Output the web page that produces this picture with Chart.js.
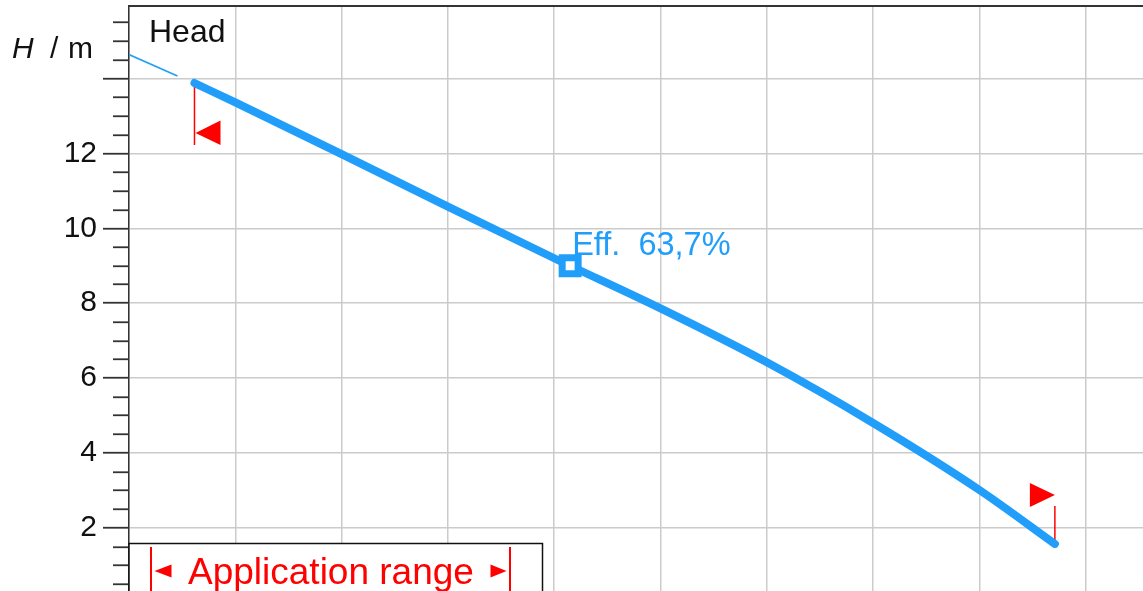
<!DOCTYPE html>
<html><head><meta charset="utf-8">
<style>html,body{margin:0;padding:0;background:#fff;overflow:hidden;width:1143px;height:591px}#wrap{width:1143px;height:591px;position:relative;overflow:hidden}</style>
<script src="https://cdn.jsdelivr.net/npm/chart.js@4/dist/chart.umd.min.js"></script>
</head><body><div id="wrap"><canvas id="c" width="1170" height="591"></canvas></div>
<script>
// ---- data ----
const flowQ = [0.616, 1, 2, 3, 4, 5, 6, 7, 8, 8.71];
const headH = [13.88, 13.36, 11.98, 10.58, 9.20, 7.86, 6.42, 4.80, 3.01, 1.57];
const extQ = [0, 0.456];
const extH = [14.64, 14.07];
const bepQ = [4.15];
const bepH = [9.0];
const effLabel = 'Eff.  63,7%';
const yTickLabels = [2, 4, 6, 8, 10, 12];
const curveTitle = 'Head';
const rangeLabel = 'Application range';

const BLUE = 'rgb(33,158,250)';
const RED = '#ff0000';
const GRID = '#cbcbcb';
const AXIS = '#333333';
const FONT = '"Liberation Sans", Arial, sans-serif';

const isMajor = v => Math.abs(v / 2 - Math.round(v / 2)) < 1e-6;
const isInt = v => Math.abs(v - Math.round(v)) < 1e-6;
const noPad = s => { s.paddingTop = 0; s.paddingBottom = 0; s.paddingLeft = 0; s.paddingRight = 0; };

const decor = {
  id: 'decor',
  beforeDatasetsDraw(chart) {
    const { ctx, scales: { x, y } } = chart;
    const n = flowQ.length - 1;
    const p0 = { x: x.getPixelForValue(flowQ[0]), y: y.getPixelForValue(headH[0]) };
    const pN = { x: x.getPixelForValue(flowQ[n]), y: y.getPixelForValue(headH[n]) };
    ctx.save();
    ctx.strokeStyle = RED; ctx.fillStyle = RED; ctx.lineWidth = 1.5;
    // left flag
    ctx.beginPath(); ctx.moveTo(p0.x, p0.y); ctx.lineTo(p0.x, p0.y + 62); ctx.stroke();
    ctx.beginPath(); ctx.moveTo(p0.x + 1, p0.y + 50); ctx.lineTo(p0.x + 26, p0.y + 37.5); ctx.lineTo(p0.x + 26, p0.y + 62); ctx.closePath(); ctx.fill();
    // right flag
    ctx.beginPath(); ctx.moveTo(pN.x, pN.y); ctx.lineTo(pN.x, pN.y - 38); ctx.stroke();
    ctx.beginPath(); ctx.moveTo(pN.x, pN.y - 49); ctx.lineTo(pN.x - 25, pN.y - 61); ctx.lineTo(pN.x - 25, pN.y - 37); ctx.closePath(); ctx.fill();
    ctx.restore();
  },
  afterDraw(chart) {
    const { ctx, chartArea: ca, scales: { x, y } } = chart;
    ctx.save();
    // minor ticks
    ctx.strokeStyle = AXIS; ctx.lineWidth = 1.8;
    y.ticks.forEach(t => {
      if (!isMajor(t.value)) {
        const py = Math.round(y.getPixelForValue(t.value)) + 0.25;
        ctx.beginPath(); ctx.moveTo(ca.left - 16, py); ctx.lineTo(ca.left, py); ctx.stroke();
      }
    });
    // axis title H / m
    ctx.fillStyle = '#111'; ctx.textBaseline = 'alphabetic'; ctx.textAlign = 'left';
    ctx.font = 'italic 30px ' + FONT; ctx.fillText('H', 12, 58);
    ctx.font = '30px ' + FONT; ctx.fillText('/', 50, 58); ctx.fillText('m', 68, 58);
    // curve title
    ctx.font = '32px ' + FONT; ctx.fillText(curveTitle, ca.left + 20, ca.top + 36);
    // efficiency label
    const bx = x.getPixelForValue(bepQ[0]), by = y.getPixelForValue(bepH[0]);
    ctx.fillStyle = BLUE; ctx.font = '32.5px ' + FONT; ctx.fillText(effLabel, bx + 2, by - 11);
    // application range box
    const bL = ca.left, bT = 543.5, bR = 542.5, bB = ca.bottom + 10;
    ctx.fillStyle = '#fff'; ctx.fillRect(bL, bT, bR - bL, bB - bT);
    ctx.strokeStyle = '#111'; ctx.lineWidth = 1.5; ctx.strokeRect(bL, bT, bR - bL, bB - bT);
    ctx.strokeStyle = RED; ctx.fillStyle = RED; ctx.lineWidth = 2;
    ctx.beginPath(); ctx.moveTo(151, 547); ctx.lineTo(151, bB); ctx.moveTo(510, 547); ctx.lineTo(510, bB); ctx.stroke();
    ctx.beginPath(); ctx.moveTo(154.5, 571); ctx.lineTo(171.5, 564.5); ctx.lineTo(171.5, 577.5); ctx.closePath(); ctx.fill();
    ctx.beginPath(); ctx.moveTo(506.5, 571); ctx.lineTo(490.5, 564.5); ctx.lineTo(490.5, 577.5); ctx.closePath(); ctx.fill();
    ctx.font = '37px ' + FONT; ctx.fillText(rangeLabel, 188, 583.5);
    ctx.restore();
  }
};

new Chart(document.getElementById('c'), {
  type: 'line',
  data: {
    datasets: [
      {
        data: bepQ.map((q, i) => ({ x: q, y: bepH[i] })),
        showLine: false, pointStyle: 'rect', pointRadius: 11.3, pointBorderWidth: 7,
        pointBackgroundColor: '#fff', pointBorderColor: BLUE, order: 0
      },
      {
        data: flowQ.map((q, i) => ({ x: q, y: headH[i] })),
        borderColor: BLUE, borderWidth: 8, pointRadius: 0, cubicInterpolationMode: 'monotone',
        borderCapStyle: 'round', borderJoinStyle: 'round', fill: false, order: 1
      },
      {
        data: extQ.map((q, i) => ({ x: q, y: extH[i] })),
        borderColor: BLUE, borderWidth: 1.6, pointRadius: 0, fill: false, order: 2
      }
    ]
  },
  options: {
    responsive: false, animation: false, devicePixelRatio: 1,
    layout: { padding: 0, autoPadding: false },
    plugins: { legend: { display: false }, tooltip: { enabled: false } },
    scales: {
      x: {
        type: 'linear', position: 'top', min: 0, max: 9.793,
        ticks: { display: false, stepSize: 1, includeBounds: false },
        grid: { color: c => (c.tick && isInt(c.tick.value)) ? GRID : 'rgba(0,0,0,0)', lineWidth: 1.5, drawTicks: false },
        border: { display: true, color: AXIS, width: 2 },
        afterFit: s => { s.height = 6; noPad(s); }
      },
      y: {
        type: 'linear', min: 0.312, max: 15.937,
        ticks: {
          stepSize: 0.5, includeBounds: false, autoSkip: false, padding: 6,
          color: '#111', font: { family: FONT, size: 30 },
          callback: v => yTickLabels.includes(v) ? String(v) : ''
        },
        grid: {
          color: c => (c.tick && isMajor(c.tick.value)) ? GRID : 'rgba(0,0,0,0)',
          lineWidth: 1.5, tickLength: 26, tickWidth: 1.8,
          tickColor: c => (c.tick && isMajor(c.tick.value)) ? AXIS : 'rgba(0,0,0,0)'
        },
        border: { display: true, color: AXIS, width: 1.5 },
        afterFit: s => { s.width = 129; noPad(s); }
      }
    }
  },
  plugins: [decor]
});
</script></body></html>
